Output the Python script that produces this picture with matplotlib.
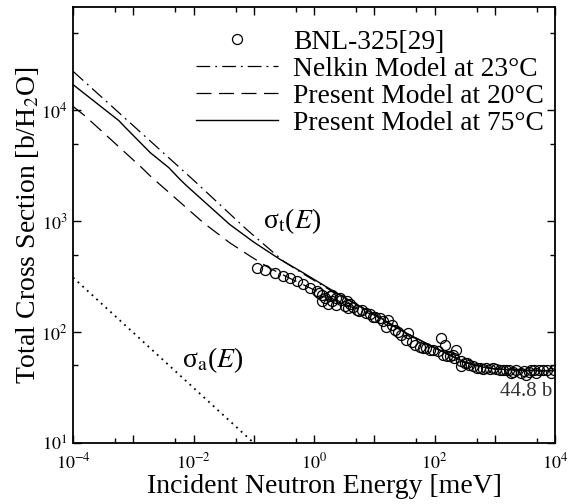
import math
import matplotlib
matplotlib.use("Agg")
import matplotlib.pyplot as plt
from matplotlib.ticker import LogLocator, FuncFormatter, NullFormatter

plt.rcParams["font.family"] = ["Liberation Serif", "DejaVu Serif"]
plt.rcParams["mathtext.fontset"] = "stix"

# BNL-325 measured total cross section of water (meV, b/H2O)
bnl_energy = [0.111, 0.153, 0.224, 0.308, 0.398, 0.513, 0.661, 0.851, 1.10, 1.2,
              1.33, 1.33, 1.51, 1.72, 1.82, 1.95, 2.0, 2.34, 2.34, 2.69,
              2.85, 3.24, 3.47, 3.67, 3.98, 4.47, 5.07, 5.62, 6.17, 7.41,
              8.32, 9.55, 10.2, 12.3, 14.1, 15.8, 17.0, 20.0, 21.9, 25.1,
              28.2, 33.9, 36.3, 41.7, 46.8, 56.9, 63.1, 73.3, 83.2, 94.4,
              112, 129, 138, 148, 158, 178, 200, 214, 229, 275,
              275, 316, 339, 380, 437, 501, 562, 631, 724, 832,
              933, 1050, 1200, 1350, 1550, 1740, 1860, 2040, 2290, 2750,
              3020, 3310, 3630, 3980, 4470, 4900, 5500, 6310, 7240, 8710, 9550]
bnl_sigma = [379, 366, 342, 319, 308, 287, 269, 251, 233, 224,
             218, 190, 204, 180, 210, 217, 190, 177, 203, 204,
             195, 171, 189, 164, 178, 170, 158, 155, 158, 148,
             145, 138, 138, 134, 126, 112, 129, 115, 105, 100,
             94.6, 85.1, 97.7, 81.3, 76.7, 74.1, 72.4, 71.6, 69.2, 69.2,
             67.6, 88.3, 62.4, 76.7, 60.3, 60.3, 61.7, 58.2, 68.4, 54.3,
             49.0, 52.5, 52.5, 50.1, 49.0, 47.9, 47.3, 46.8, 47.3, 46.2,
             47.3, 46.2, 45.7, 45.2, 45.7, 45.2, 42.7, 43.7, 45.7, 42.7,
             44.7, 41.1, 43.7, 45.7, 45.2, 42.7, 45.2, 45.7, 45.2, 42.7, 45.2]

# Nelkin model at 23 C
nelkin_energy = [1e-4, 1e-3, 1e-2, 0.0759, 0.316, 0.631, 1.82, 5.01, 10, 31.6,
                 100, 316, 631, 1000, 3162, 10000]
nelkin_sigma = [22400, 7240, 2340, 841, 432, 340, 240, 178, 145, 100,
                72.4, 53.7, 48.4, 46.6, 45.2, 44.8]

# present model at 20 C
p20_energy = [1e-4, 1.58e-4, 1.38e-3, 1.91e-3, 0.0145, 0.0398, 0.0871, 0.178, 0.398, 1.0,
              3.16, 10, 31.6, 100, 316, 631, 1000, 3162, 10000]
p20_sigma = [10800, 8870, 3030, 2550, 968, 638, 483, 380, 305, 240,
             178, 142, 99, 72, 53.5, 48.3, 46.6, 45.2, 44.8]

# present model at 75 C
p75_energy = [1e-4, 5.75e-4, 7.41e-4, 1.91e-3, 3.89e-3, 5.89e-3, 7.76e-3, 0.0398, 0.1, 0.269,
              0.631, 1.82, 5.01, 10, 31.6, 100, 316, 631, 1000, 3162, 10000]
p75_sigma = [16980, 8050, 6970, 4140, 3030, 2390, 2070, 933, 646, 454,
             347, 245, 178, 145, 100, 72.4, 53.7, 48.4, 46.6, 45.2, 44.8]

# absorption cross section (1/v)
abs_energy = [1e-4, 0.1]
abs_sigma = [310, 10]

fig = plt.figure(figsize=(5.8, 5.04), dpi=100)
ax = fig.add_axes([0.126, 0.121, 0.831, 0.865])

ax.plot(bnl_energy, bnl_sigma, "o", ms=7.2, mfc="none", mec="black", mew=0.9,
        label="BNL-325[29]", zorder=3)
ax.plot(nelkin_energy, nelkin_sigma, color="black", lw=0.9,
        linestyle=(0, (11, 4, 1.5, 4)), label="Nelkin Model at 23°C")
ax.plot(p20_energy, p20_sigma, color="black", lw=0.9,
        linestyle=(0, (12, 6)), label="Present Model at 20°C")
ax.plot(p75_energy, p75_sigma, color="black", lw=1.0,
        label="Present Model at 75°C")
ax.plot(abs_energy, abs_sigma, color="black", lw=1.3, linestyle=(0, (1, 2.5)))

ax.set_xscale("log")
ax.set_yscale("log")
ax.set_xlim(1e-4, 1e4)
ax.set_ylim(10, 8.5e4)

ax.xaxis.set_major_locator(LogLocator(base=10, subs=(1.0,), numticks=20))
ax.xaxis.set_minor_locator(LogLocator(base=10, subs=(5.0,), numticks=20))
ax.yaxis.set_major_locator(LogLocator(base=10, subs=(1.0,), numticks=20))
ax.yaxis.set_minor_locator(LogLocator(base=10, subs=(5.0,), numticks=20))


def decade_label(v, pos):
    return r"$10^{%d}$" % round(math.log10(v))


def even_decade_label(v, pos):
    e = round(math.log10(v))
    return r"$10^{%d}$" % e if e % 2 == 0 else ""


ax.xaxis.set_major_formatter(FuncFormatter(even_decade_label))
ax.yaxis.set_major_formatter(FuncFormatter(decade_label))
ax.xaxis.set_minor_formatter(NullFormatter())
ax.yaxis.set_minor_formatter(NullFormatter())

ax.tick_params(which="both", direction="in", top=True, right=True, width=1.0,
               labelsize=13)
ax.tick_params(which="major", length=6)
ax.tick_params(which="minor", length=3.5)
ax.tick_params(axis="x", pad=7)
ax.tick_params(axis="y", pad=4)
for s in ax.spines.values():
    s.set_linewidth(1.3)

ax.set_xlabel("Incident Neutron Energy [meV]", fontsize=20)
ax.set_ylabel("Total Cross Section [b/H$_2$O]", fontsize=20)
ax.xaxis.set_label_coords(0.521, -0.071)
ax.yaxis.set_label_coords(-0.066, 0.5)

ax.text(0.14, 990, r"σ$_{\rm t}$($E$)", fontsize=20, ha="left", va="center")
ax.text(6.5e-3, 56, r"σ$_{\rm a}$($E$)", fontsize=20, ha="left", va="center")
ax.text(9100, 29, "44.8 b", fontsize=15, color="#333333", ha="right", va="center")

ax.legend(loc="upper left", bbox_to_anchor=(0.255, 0.948), frameon=False,
          fontsize=19.8, handlelength=2.98, handletextpad=0.55, labelspacing=0.065,
          borderpad=0, borderaxespad=0)

fig.savefig("out.png", dpi=100)
